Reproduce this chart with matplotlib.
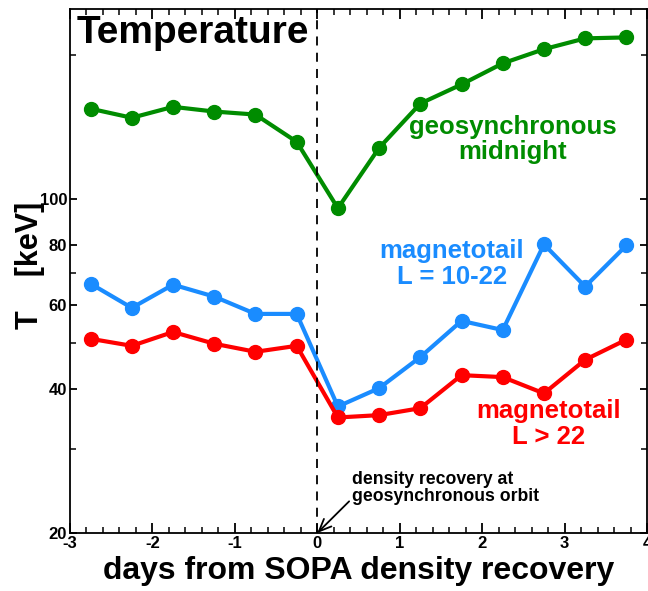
import matplotlib.pyplot as plt
from matplotlib.ticker import FixedLocator, NullFormatter, MultipleLocator

plt.rcParams['font.family'] = ['Liberation Sans', 'DejaVu Sans']
plt.rcParams['font.weight'] = 'bold'
plt.rcParams['axes.unicode_minus'] = False

# days from SOPA density recovery (bin centres)
days = [-2.75, -2.25, -1.75, -1.25, -0.75, -0.25, 0.25, 0.75,
        1.25, 1.75, 2.25, 2.75, 3.25, 3.75]

# temperature [keV]
t_geo = [154.6, 148, 156, 152.5, 150.3, 131.8, 95.7, 128,
         158.5, 173.8, 192.4, 206, 217, 218]
t_tail_mid = [66.5, 59.2, 66.2, 62.5, 57.5, 57.5, 36.8, 40.2,
              46.7, 55.6, 53.2, 80.4, 65.6, 80]
t_tail_far = [51, 49.3, 52.7, 49.8, 47.9, 49.3, 34.9, 35.3,
              36.5, 42.8, 42.4, 39.2, 46.1, 50.8]

green = '#008c00'
blue = '#1a8cff'
red = '#ff0000'

fig = plt.figure(figsize=(6.48, 5.91), dpi=100)
ax = fig.add_axes([70/648, 1 - 533/591, 577/648, 524/591])

ax.plot(days, t_geo, '-o', color=green, lw=3, ms=10)
ax.plot(days, t_tail_mid, '-o', color=blue, lw=3, ms=10)
ax.plot(days, t_tail_far, '-o', color=red, lw=3, ms=10)

ax.axvline(0, color='black', ls=(0, (5, 4)), lw=1.3)

ax.set_yscale('log')
ax.set_xlim(-3, 4)
ax.set_ylim(20, 250)

ax.xaxis.set_major_locator(MultipleLocator(1))
ax.xaxis.set_minor_locator(MultipleLocator(0.2))
ax.yaxis.set_major_locator(FixedLocator([20, 40, 60, 80, 100]))
ax.yaxis.set_minor_locator(FixedLocator([30, 50, 70, 200]))
ax.yaxis.set_major_formatter(plt.FuncFormatter(lambda v, p: '%d' % v))
ax.yaxis.set_minor_formatter(NullFormatter())
ax.tick_params(which='both', direction='in', top=True, right=True,
               labelsize=12, pad=2)
ax.tick_params(which='major', length=7, width=1.3)
ax.tick_params(which='minor', length=4, width=1.1)
ax.tick_params(axis='y', which='major', length=5)
for s in ax.spines.values():
    s.set_linewidth(1.3)

ax.set_xlabel('days from SOPA density recovery', fontsize=23,
              fontweight='bold', labelpad=4)
ax.set_ylabel('T    [keV]', fontsize=22, fontweight='bold', labelpad=-4)
ax.yaxis.set_label_coords(-25/577, 0.51)

ax.text(0.012, 0.988, 'Temperature', transform=ax.transAxes, fontsize=28,
        ha='left', va='top')
ax.text(2.37, 133, 'geosynchronous\nmidnight', color=green, fontsize=18.5,
        ha='center', va='center', linespacing=1.05)
ax.text(1.63, 73, 'magnetotail\nL = 10-22', color=blue, fontsize=18.5,
        ha='center', va='center', linespacing=1.1)
ax.text(2.8, 33.8, 'magnetotail\nL > 22', color=red, fontsize=18.5,
        ha='center', va='center', linespacing=1.1)

ax.annotate('density recovery at\ngeosynchronous orbit', xy=(0, 20),
            xytext=(0.42, 24.8), fontsize=12.7, ha='left', va='center',
            linespacing=1.0,
            arrowprops=dict(arrowstyle='->,head_length=0.7,head_width=0.3',
                            color='black', lw=1.3,
                            shrinkA=0, shrinkB=0, relpos=(0, 0.2)))

plt.savefig('out.png', dpi=100)
